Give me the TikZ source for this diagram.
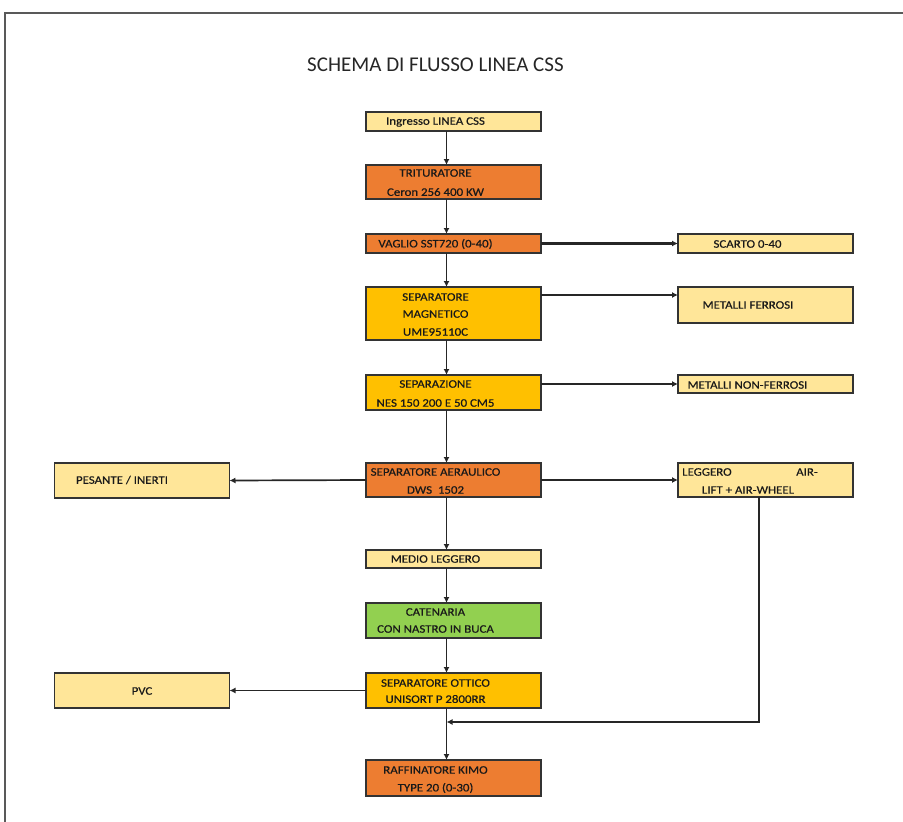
\documentclass[tikz,border=0pt]{standalone}
\usepackage{fontspec}
\setmainfont[FakeStretch=1.12,FakeBold=0.5]{Carlito}
\newfontfamily\titlefont{Carlito}
\usetikzlibrary{arrows.meta,calc}

\definecolor{giallino}{HTML}{FFE699}
\definecolor{arancio}{HTML}{ED7D31}
\definecolor{oro}{HTML}{FFC000}
\definecolor{verde}{HTML}{92D050}

\tikzset{
  box/.style={draw=black!80,line width=1.4pt,minimum width=175pt,inner sep=0pt,outer sep=0pt},
  lbl/.style={font=\fontsize{11.5}{13}\selectfont,inner sep=0pt,text=black!90},
  flow/.style={-{Latex[length=6pt,width=6pt]},line width=1.7pt,draw=black!85},
  fatflow/.style={flow,line width=2.6pt},
}

\begin{document}
\begin{tikzpicture}[x=1pt,y=-1pt]
  \useasboundingbox (0,0) rectangle (903,822);
  % page edge
  \draw[black!65,line width=1.5pt] (5,822) -- (5,13) -- (903,13);
  \node[font=\titlefont\fontsize{21}{24}\selectfont,text=black!85,inner sep=0pt] (titolo) at (435.5,65) {SCHEMA DI FLUSSO LINEA CSS};

  % main line
  \node[box,fill=giallino,minimum height=19pt] (ingr) at (453.5,121.5) {};
  \node[box,fill=arancio,minimum height=34pt] (trit) at (453.5,182) {};
  \node[box,fill=arancio,minimum height=19pt] (vagl) at (453.5,243.5) {};
  \node[box,fill=oro,minimum height=53pt] (magn) at (453.5,313.5) {};
  \node[box,fill=oro,minimum height=35pt] (sepz) at (453.5,392.5) {};
  \node[box,fill=arancio,minimum height=34pt] (aer) at (453.5,480) {};
  \node[box,fill=giallino,minimum height=18pt] (medio) at (453.5,559) {};
  \node[box,fill=verde,minimum height=35pt] (caten) at (453.5,620.5) {};
  \node[box,fill=oro,minimum height=35pt] (ottico) at (453.5,690.5) {};
  \node[box,fill=arancio,minimum height=36pt] (raff) at (453.5,778) {};

  % outputs
  \node[box,fill=giallino,minimum height=19pt] (scarto) at (765.5,243.5) {};
  \node[box,fill=giallino,minimum height=36pt] (ferr) at (765.5,305) {};
  \node[box,fill=giallino,minimum height=18pt] (nonf) at (765.5,384) {};
  \node[box,fill=giallino,minimum height=34pt] (legg) at (765.5,480) {};
  \node[box,fill=giallino,minimum height=35pt] (pes) at (142,480.5) {};
  \node[box,fill=giallino,minimum height=35pt] (pvc) at (142,690.5) {};

  % texts
  \node[lbl] (ingr1) at (435.5,122) {Ingresso LINEA CSS};
  \node[lbl] (trit1) at (435.5,173) {TRITURATORE};
  \node[lbl] (trit2) at (435.5,192) {Ceron 256 400 KW};
  \node[lbl] (vagl1) at (435.5,244) {VAGLIO SST720 (0-40)};
  \node[lbl] (magn1) at (435.5,297) {SEPARATORE};
  \node[lbl] (magn2) at (435.5,314) {MAGNETICO};
  \node[lbl] (magn3) at (435.5,332) {UME95110C};
  \node[lbl] (sepz1) at (435.5,384) {SEPARAZIONE};
  \node[lbl] (sepz2) at (435.5,403) {NES 150 200 E 50 CM5};
  \node[lbl] (aer1) at (435.5,472) {SEPARATORE AERAULICO};
  \node[lbl] (aer2) at (435.5,490) {DWS~~1502};
  \node[lbl] (medio1) at (435.5,559) {MEDIO LEGGERO};
  \node[lbl] (caten1) at (435.5,612) {CATENARIA};
  \node[lbl] (caten2) at (435.5,629) {CON NASTRO IN BUCA};
  \node[lbl] (ottico1) at (435.5,683) {SEPARATORE OTTICO};
  \node[lbl] (ottico2) at (435.5,699) {UNISORT P 2800RR};
  \node[lbl] (raff1) at (435.5,770) {RAFFINATORE KIMO};
  \node[lbl] (raff2) at (435.5,788) {TYPE 20 (0-30)};
  \node[lbl] (scarto1) at (747.5,244) {SCARTO 0-40};
  \node[lbl] (ferr1) at (748,305) {METALLI FERROSI};
  \node[lbl] (nonf1) at (747.5,385) {METALLI NON-FERROSI};
  \node[lbl,anchor=west] (legg1) at (682,472) {LEGGERO};
  \node[lbl,anchor=west] (legg2) at (796,472) {AIR-};
  \node[lbl] (legg3) at (748,490) {LIFT + AIR-WHEEL};
  \node[lbl] (pes1) at (122,480) {PESANTE / INERTI};
  \node[lbl] (pvc1) at (142,691) {PVC};

  % connectors
  \coordinate (spine) at (446.5,0);
  \coordinate (rientro) at (446.5,722);
  \foreach \a/\b in {ingr/trit,trit/vagl,vagl/magn,magn/sepz,sepz/aer,
                     aer/medio,medio/caten,caten/ottico,ottico/raff}
    \draw[flow] (\a.south -| spine) -- (\b.north -| spine);
  \draw[fatflow] (vagl.east) -- (scarto.west);
  \draw[flow] ([yshift=-8pt]magn.north east) -- ([yshift=-8pt]ferr.north west);
  \draw[fatflow] (sepz.east |- nonf.west) -- (nonf.west);
  \draw[flow] (aer.east) -- (legg.west);
  \draw[flow] (aer.west) -- (pes.east);
  \draw[flow] (ottico.west) -- (pvc.east);
  \draw[flow] ([xshift=-6.5pt]legg.south) |- (rientro);
\end{tikzpicture}
\end{document}
